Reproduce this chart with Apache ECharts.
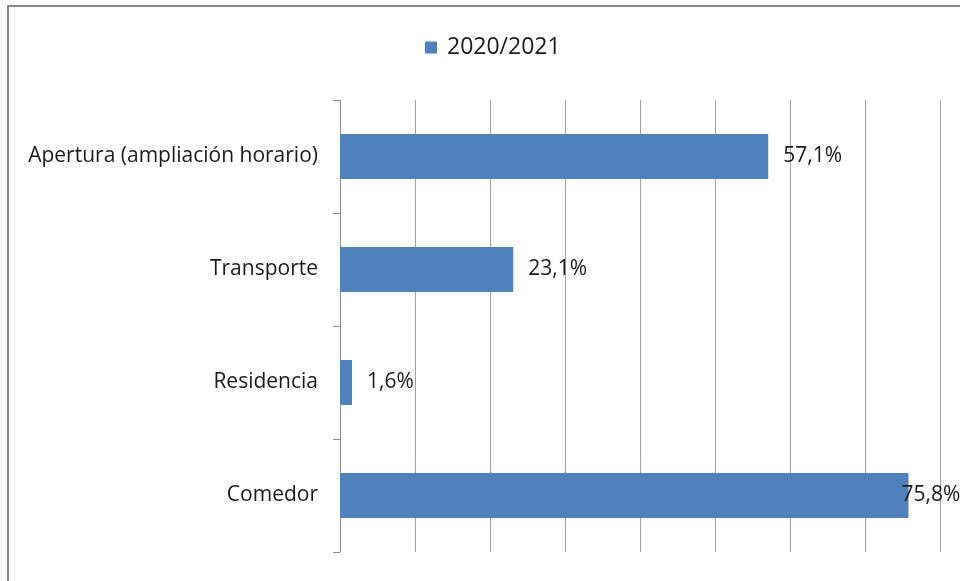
<!DOCTYPE html>
<html>
<head>
<meta charset="utf-8">
<script src="https://cdn.jsdelivr.net/npm/echarts@6/dist/echarts.min.js"></script>
<style>html,body{margin:0;padding:0;background:#fff;}#c{width:960px;height:581px;}</style>
</head>
<body>
<div id="c"></div>
<script>
var categories = ['Apertura (ampliación horario)', 'Transporte', 'Residencia', 'Comedor'];
var values = [57.1, 23.1, 1.6, 75.8];
var seriesName = '2020/2021';
var xTicks = [0, 10, 20, 30, 40, 50, 60, 70, 80];

var FONT = '"Open Sans", sans-serif';
var chart = echarts.init(document.getElementById('c'), null, {renderer: 'canvas'});

var data = values.map(function (v, i) {
  var d = {value: v};
  if (i === 3) d.label = {offset: [-22, 0]};
  return d;
});

chart.setOption({
  animation: false,
  backgroundColor: '#ffffff',
  graphic: [{
    type: 'rect',
    shape: {x: 8, y: 6, width: 1200, height: 1200},
    style: {fill: 'none', stroke: '#878787', lineWidth: 2},
    silent: true
  }],
  legend: {
    left: 420,
    top: 31,
    itemWidth: 12,
    itemHeight: 12,
    icon: 'rect',
    data: [seriesName],
    textStyle: {fontFamily: FONT, fontSize: 23, color: '#1a1a1a', padding: [0, 0, 0, 5]}
  },
  grid: {left: 340, top: 100, width: 600, height: 452, containLabel: false},
  xAxis: {
    type: 'value',
    min: xTicks[0],
    max: xTicks[xTicks.length - 1],
    interval: xTicks[1] - xTicks[0],
    axisLabel: {show: false},
    axisLine: {show: false},
    axisTick: {show: false},
    splitLine: {show: true, lineStyle: {color: '#a0a0a0', width: 1}}
  },
  yAxis: {
    type: 'category',
    inverse: true,
    data: categories,
    axisLine: {show: true, lineStyle: {color: '#8c8c8c', width: 1}},
    axisTick: {show: true, length: 7, inside: false, alignWithLabel: false, lineStyle: {color: '#8c8c8c'}},
    axisLabel: {margin: 22, fontFamily: FONT, fontSize: 21, color: '#1a1a1a'}
  },
  series: [{
    name: seriesName,
    type: 'bar',
    data: data,
    barWidth: 45,
    itemStyle: {color: '#4f81bd'},
    label: {
      show: true,
      position: 'right',
      distance: 15,
      fontFamily: FONT,
      fontSize: 21,
      color: '#1a1a1a',
      formatter: function (p) { return p.value.toFixed(1).replace('.', ',') + '%'; }
    }
  }]
});
</script>
</body>
</html>
